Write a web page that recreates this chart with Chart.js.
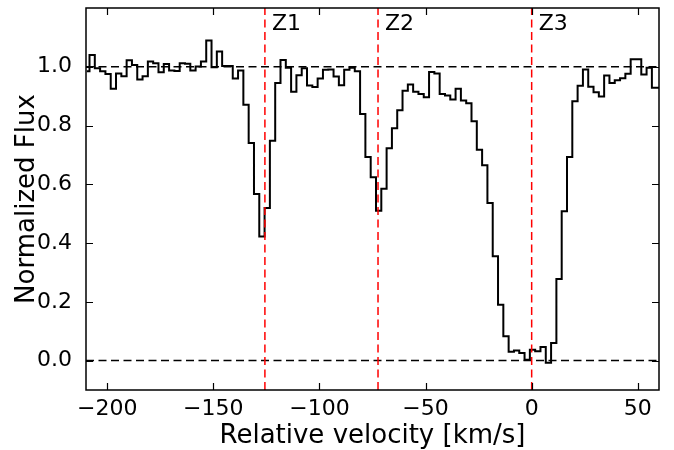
<!DOCTYPE html>
<html>
<head>
<meta charset="utf-8">
<title>Normalized flux vs relative velocity</title>
<script src="https://cdn.jsdelivr.net/npm/chart.js@4.4.0/dist/chart.umd.min.js"></script>
<style>
  html, body { margin: 0; padding: 0; background: #fff; }
  #wrap { width: 674px; height: 450px; }
</style>
</head>
<body>
<div id="wrap"><canvas id="specChart" width="674" height="450"></canvas></div>
<script>
// bin centres (km/s)
const velocity = [
  -209.6, -207.1, -204.6, -202.1, -199.6, -197.1, -194.6, -192.1, -189.6, -187.1,
  -184.6, -182.1, -179.6, -177.1, -174.6, -172.1, -169.6, -167.1, -164.6, -162.1,
  -159.6, -157.1, -154.6, -152.1, -149.6, -147.1, -144.6, -142.1, -139.6, -137.1,
  -134.6, -132.1, -129.6, -127.1, -124.6, -122.1, -119.6, -117.1, -114.6, -112.1,
  -109.6, -107.1, -104.6, -102.1, -99.6, -97.1, -94.6, -92.1, -89.6, -87.1,
  -84.6, -82.1, -79.6, -77.1, -74.6, -72.1, -69.6, -67.1, -64.6, -62.1,
  -59.6, -57.1, -54.6, -52.1, -49.6, -47.1, -44.6, -42.1, -39.6, -37.1,
  -34.6, -32.1, -29.6, -27.1, -24.6, -22.1, -19.6, -17.1, -14.6, -12.1,
  -9.6, -7.1, -4.6, -2.1, 0.4, 2.9, 5.4, 7.9, 10.4, 12.9,
  15.4, 17.9, 20.4, 22.9, 25.4, 27.9, 30.4, 32.9, 35.4, 37.9,
  40.4, 42.9, 45.4, 47.9, 50.4, 52.9, 55.4, 57.9, 60.4
];

// normalized flux per bin
const flux = [
  0.985, 1.040, 0.995, 0.985, 0.975, 0.925, 0.977, 0.968, 1.022, 1.006,
  0.957, 0.968, 1.018, 1.012, 0.981, 1.009, 0.987, 0.986, 1.012, 1.010,
  0.987, 1.001, 1.018, 1.089, 0.998, 1.052, 1.003, 1.003, 0.960, 0.987,
  0.871, 0.741, 0.567, 0.422, 0.519, 0.748, 0.945, 1.023, 0.997, 0.915,
  0.971, 0.995, 0.936, 0.931, 0.960, 0.990, 0.991, 0.967, 0.937, 0.990,
  0.997, 0.985, 0.839, 0.693, 0.624, 0.510, 0.585, 0.723, 0.791, 0.852,
  0.918, 0.940, 0.915, 0.907, 0.896, 0.982, 0.977, 0.907, 0.902, 0.889,
  0.925, 0.885, 0.876, 0.815, 0.718, 0.665, 0.536, 0.355, 0.190, 0.083,
  0.030, 0.034, 0.026, 0.003, 0.037, 0.032, 0.046, -0.007, 0.060, 0.278,
  0.508, 0.693, 0.883, 0.935, 0.991, 0.932, 0.913, 0.899, 0.970, 0.945,
  0.954, 0.961, 0.976, 1.026, 1.026, 0.974, 0.997, 0.929, 0.929
];

const xTicks = [-200, -150, -100, -50, 0, 50];
const yTicks = [0.0, 0.2, 0.4, 0.6, 0.8, 1.0];
const compNames = ['Z1', 'Z2', 'Z3'];
const compVelocity = [-125.7, -72.4, 0];
const refLevels = [1.0, 0.0];

const X_MIN = -210, X_MAX = 60, Y_MIN = -0.1, Y_MAX = 1.2;
const FONT = "'DejaVu Sans', sans-serif";

const minus = s => String(s).replace('-', '\u2212');

// vertical red markers, drawn on top
const compSets = compVelocity.map(v => ({
  data: [{ x: v, y: Y_MIN }, { x: v, y: Y_MAX }],
  borderColor: '#ff0000',
  borderWidth: 1.5,
  borderDash: [8, 4.5],
  pointRadius: 0,
  order: 0
}));

// black dashed continuum / zero level
const levelSets = refLevels.map(l => ({
  data: [{ x: X_MIN, y: l }, { x: X_MAX, y: l }],
  borderColor: '#000',
  borderWidth: 1.5,
  borderDash: [8, 4.5],
  pointRadius: 0,
  order: 2
}));

// inward tick marks, frame and component labels
const framePlugin = {
  id: 'frame',
  afterDraw(chart) {
    const { ctx, chartArea: a, scales: { x, y } } = chart;
    const L = 7;
    ctx.save();
    ctx.strokeStyle = '#000';
    ctx.lineWidth = 1.2;
    ctx.beginPath();
    xTicks.forEach(t => {
      const px = Math.round(x.getPixelForValue(t)) + 0.5;
      ctx.moveTo(px, a.bottom); ctx.lineTo(px, a.bottom - L);
      ctx.moveTo(px, a.top); ctx.lineTo(px, a.top + L);
    });
    yTicks.forEach(t => {
      const py = Math.round(y.getPixelForValue(t)) + 0.5;
      ctx.moveTo(a.left, py); ctx.lineTo(a.left + L, py);
      ctx.moveTo(a.right, py); ctx.lineTo(a.right - L, py);
    });
    ctx.stroke();
    ctx.lineWidth = 1.5;
    ctx.strokeRect(a.left, a.top, a.right - a.left, a.bottom - a.top);

    ctx.fillStyle = '#000';
    ctx.font = '22px ' + FONT;
    ctx.textAlign = 'left';
    ctx.textBaseline = 'middle';
    compNames.forEach((n, i) => {
      ctx.fillText(n, x.getPixelForValue(compVelocity[i]) + 7, y.getPixelForValue(1.145));
    });
    ctx.restore();
  }
};

document.addEventListener('DOMContentLoaded', () => {
  const ctx = document.getElementById('specChart').getContext('2d');
  new Chart(ctx, {
    type: 'line',
    data: {
      datasets: [
        ...compSets,
        {
          data: velocity.map((v, i) => ({ x: v, y: flux[i] })),
          borderColor: '#000',
          borderWidth: 2,
          stepped: 'middle',
          pointRadius: 0,
          order: 1
        },
        ...levelSets
      ]
    },
    options: {
      responsive: false,
      animation: false,
      devicePixelRatio: 1,
      layout: { padding: { left: 0, right: 15, top: 8, bottom: 0 } },
      plugins: { legend: { display: false }, tooltip: { enabled: false } },
      scales: {
        x: {
          type: 'linear',
          min: X_MIN,
          max: X_MAX,
          afterBuildTicks: s => { s.ticks = xTicks.map(v => ({ value: v })); },
          afterFit: s => { s.height = 60; s.paddingLeft = 0; s.paddingRight = 0; },
          grid: { display: false, drawTicks: false },
          border: { display: false },
          ticks: {
            color: '#000',
            padding: 6,
            font: { family: FONT, size: 22 },
            callback: v => minus(v)
          },
          title: {
            display: true,
            text: 'Relative velocity [km/s]',
            color: '#000',
            font: { family: FONT, size: 26, lineHeight: 1 },
            padding: { top: 0, bottom: 1 }
          }
        },
        y: {
          min: Y_MIN,
          max: Y_MAX,
          afterBuildTicks: s => { s.ticks = yTicks.map(v => ({ value: v })); },
          afterFit: s => { s.width = 86; s.paddingTop = 0; s.paddingBottom = 0; },
          grid: { display: false, drawTicks: false },
          border: { display: false },
          ticks: {
            color: '#000',
            padding: 14,
            font: { family: FONT, size: 22 },
            callback: v => minus(v.toFixed(1))
          },
          title: {
            display: true,
            text: 'Normalized Flux',
            color: '#000',
            font: { family: FONT, size: 26, lineHeight: 1 },
            padding: { top: 14, bottom: 0 }
          }
        }
      }
    },
    plugins: [framePlugin]
  });
});
</script>
</body>
</html>
